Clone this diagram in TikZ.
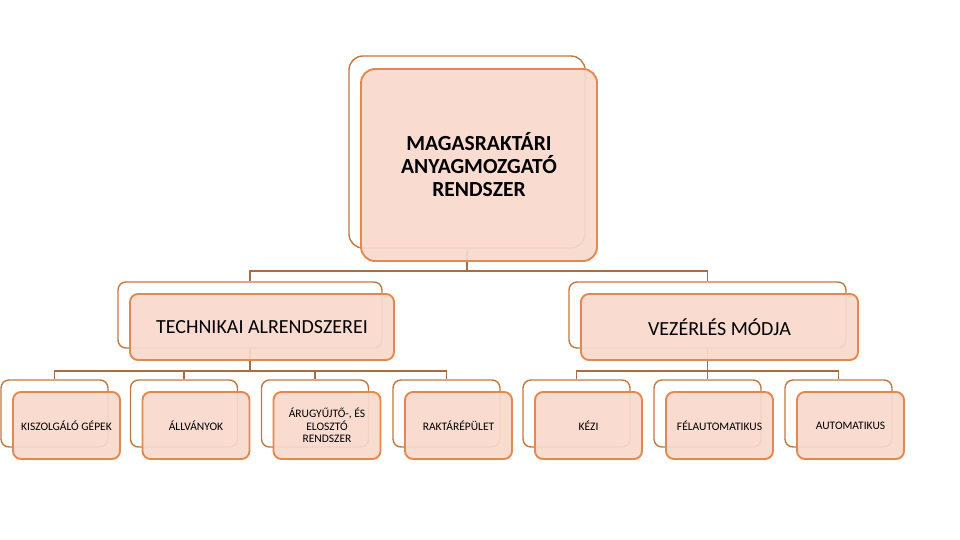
\documentclass[tikz,border=0pt]{standalone}
\usepackage{fontspec}
\setmainfont{Carlito}
\usepackage{tikz}
\usetikzlibrary{calc}
\definecolor{edge}{HTML}{E3894F}
\definecolor{backedge}{HTML}{C4783F}
\definecolor{link}{HTML}{A96D42}
\definecolor{pinkfill}{HTML}{F9D9CC}
\tikzset{
  backbox/.style={draw=backedge, fill=white, line width=1.4pt, rounded corners=8pt, inner sep=0pt},
  frontbox/.style={draw=edge, fill=pinkfill, fill opacity=0.92, text opacity=1, line width=1.9pt, rounded corners=8pt, align=center, inner sep=2pt},
  conn/.style={draw=link, line width=1.4pt},
  topsize/.style={minimum width=236pt, minimum height=192pt, rounded corners=14pt, font=\fontsize{21.5}{23}\selectfont\bfseries},
  midsize/.style={minimum height=66pt, font=\fontsize{20}{22}\selectfont},
  leafsize/.style={minimum width=107pt, minimum height=67pt, font=\fontsize{11.5}{12.5}\selectfont},
}

\begin{document}
\begin{tikzpicture}[x=1pt, y=-1pt]
  \useasboundingbox (0,0) rectangle (960,540);
  % back boxes
  \node[backbox, topsize] (rootb) at (467,152) {};
  \node[backbox, midsize, minimum width=264pt] (techb) at (250,315) {};
  \node[backbox, midsize, minimum width=277pt] (vezb) at (707.5,315) {};
  \node[backbox, leafsize] (kiszb) at (54.5,413.5) {};
  \node[backbox, leafsize] (allb) at (184,413.5) {};
  \node[backbox, leafsize] (arub) at (315,413.5) {};
  \node[backbox, leafsize] (rakb) at (446.5,413.5) {};
  \node[backbox, leafsize] (kezib) at (576.5,413.5) {};
  \node[backbox, leafsize] (felb) at (707.5,413.5) {};
  \node[backbox, leafsize] (autob) at (838.5,413.5) {};
  % connectors
  \coordinate (rootj) at (467,271);
  \coordinate (techj) at (250,371);
  \coordinate (vezj) at (707.5,371);
  \draw[conn] (rootb.south) -- (rootj) -| (techb.north);
  \draw[conn] (rootj) -| (vezb.north);
  \draw[conn] (techb.south) -- (techj);
  \foreach \n in {kiszb,allb,arub,rakb}
    \draw[conn] (techj) -| (\n.north);
  \draw[conn] (vezb.south) -- (vezj);
  \foreach \n in {kezib,felb,autob}
    \draw[conn] (vezj) -| (\n.north);
  % front boxes
  \node[frontbox, topsize] (root) at ($(rootb)+(12,13)$) {MAGASRAKTÁRI\\ANYAGMOZGATÓ\\RENDSZER};
  \node[frontbox, midsize, minimum width=264pt] (tech) at ($(techb)+(12,12)$) {TECHNIKAI ALRENDSZEREI};
  \node[frontbox, midsize, minimum width=277pt] (vez) at ($(vezb)+(12,12)$) {VEZÉRLÉS MÓDJA};
  \node[frontbox, leafsize] (kisz) at ($(kiszb)+(12,12)$) {KISZOLGÁLÓ GÉPEK};
  \node[frontbox, leafsize] (all) at ($(allb)+(12,12)$) {ÁLLVÁNYOK};
  \node[frontbox, leafsize] (aru) at ($(arub)+(12,12)$) {ÁRUGYŰJTŐ-, ÉS\\ELOSZTÓ\\RENDSZER};
  \node[frontbox, leafsize] (rak) at ($(rakb)+(12,12)$) {RAKTÁRÉPÜLET};
  \node[frontbox, leafsize] (kezi) at ($(kezib)+(12,12)$) {KÉZI};
  \node[frontbox, leafsize] (fel) at ($(felb)+(12,12)$) {FÉLAUTOMATIKUS};
  \node[frontbox, leafsize] (auto) at ($(autob)+(12,12)$) {AUTOMATIKUS};
\end{tikzpicture}
\end{document}
